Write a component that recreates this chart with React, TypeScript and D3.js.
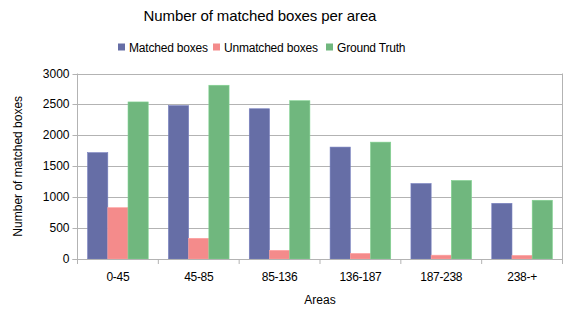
import React, { useEffect, useRef } from 'react';
import * as d3 from 'd3';

const categories = ['0-45', '45-85', '85-136', '136-187', '187-238', '238-+'];
const seriesNames = ['Matched boxes', 'Unmatched boxes', 'Ground Truth'];
const matched = [1720, 2480, 2430, 1810, 1220, 900];
const unmatched = [830, 335, 140, 90, 62, 58];
const groundTruth = [2540, 2810, 2560, 1890, 1270, 950];
const colors = ['#666ea6', '#f48b8b', '#70b77e'];
const yTicks = [0, 500, 1000, 1500, 2000, 2500, 3000];

const App = () => {
  const ref = useRef<SVGSVGElement>(null);

  useEffect(() => {
    const svg = d3.select(ref.current);
    svg.selectAll('*').remove();

    const width = 570;
    const height = 325;
    const margin = { top: 73.5, right: 7.5, bottom: 66, left: 77.5 };
    const font = 'Liberation Sans, Arial, sans-serif';
    const values = [matched, unmatched, groundTruth];

    const x0 = d3.scaleBand()
      .domain(categories)
      .range([margin.left, width - margin.right])
      .paddingInner(0.25)
      .paddingOuter(0.125);
    const x1 = d3.scaleBand()
      .domain(seriesNames)
      .range([0, x0.bandwidth()])
      .padding(0);
    const y = d3.scaleLinear()
      .domain([0, 3000])
      .range([height - margin.bottom, margin.top]);

    const left = margin.left;
    const right = width - margin.right;
    const bottom = height - margin.bottom;

    // gridlines
    svg.append('g')
      .selectAll('line')
      .data(yTicks)
      .join('line')
      .attr('x1', left - 5)
      .attr('x2', right)
      .attr('y1', d => Math.round(y(d)) + 0.5)
      .attr('y2', d => Math.round(y(d)) + 0.5)
      .attr('stroke', '#b3b3b3')
      .attr('stroke-width', 1);

    // right border
    svg.append('line')
      .attr('x1', right).attr('x2', right)
      .attr('y1', y(3000)).attr('y2', bottom)
      .attr('stroke', '#b3b3b3');

    // bars
    categories.forEach((c, i) => {
      const g = svg.append('g');
      seriesNames.forEach((s, j) => {
        const v = values[j][i];
        g.append('rect')
          .attr('x', (x0(c) as number) + (x1(s) as number))
          .attr('y', y(v))
          .attr('width', x1.bandwidth())
          .attr('height', bottom - y(v))
          .attr('fill', colors[j])
          .attr('stroke', d3.color(colors[j])!.brighter(0.4).toString())
          .attr('stroke-width', 0.6);
      });
    });

    // axes lines
    svg.append('line')
      .attr('x1', left).attr('x2', left)
      .attr('y1', y(3000)).attr('y2', bottom + 5)
      .attr('stroke', '#b3b3b3');
    svg.append('line')
      .attr('x1', left - 5).attr('x2', right)
      .attr('y1', Math.round(bottom) + 0.5).attr('y2', Math.round(bottom) + 0.5)
      .attr('stroke', '#b3b3b3');

    // x ticks at category boundaries
    const step = x0.step();
    svg.append('g')
      .selectAll('line')
      .data(d3.range(categories.length + 1))
      .join('line')
      .attr('x1', d => left + d * step)
      .attr('x2', d => left + d * step)
      .attr('y1', bottom)
      .attr('y2', bottom + 5)
      .attr('stroke', '#b3b3b3');

    // y tick labels
    svg.append('g')
      .selectAll('text')
      .data(yTicks)
      .join('text')
      .attr('x', left - 8)
      .attr('y', d => y(d) + 4)
      .attr('text-anchor', 'end')
      .attr('font-family', font)
      .attr('font-size', 12)
      .attr('fill', '#000')
      .text(d => d);

    // x tick labels
    svg.append('g')
      .selectAll('text')
      .data(categories)
      .join('text')
      .attr('x', d => (x0(d) as number) + x0.bandwidth() / 2)
      .attr('y', bottom + 22)
      .attr('text-anchor', 'middle')
      .attr('font-family', font)
      .attr('font-size', 12)
      .attr('letter-spacing', -0.3)
      .attr('fill', '#000')
      .text(d => d);

    // axis titles
    svg.append('text')
      .attr('x', (left + right) / 2)
      .attr('y', 304)
      .attr('text-anchor', 'middle')
      .attr('font-family', font)
      .attr('font-size', 12)
      .text('Areas');
    svg.append('text')
      .attr('transform', `translate(22,${(y(3000) + bottom) / 2}) rotate(-90)`)
      .attr('text-anchor', 'middle')
      .attr('font-family', font)
      .attr('font-size', 12)
      .text('Number of matched boxes');

    // title
    svg.append('text')
      .attr('x', 260)
      .attr('y', 21)
      .attr('text-anchor', 'middle')
      .attr('font-family', font)
      .attr('font-size', 15)
      .attr('letter-spacing', -0.1)
      .text('Number of matched boxes per area');

    // legend
    const legendX = [118, 213, 326];
    seriesNames.forEach((s, j) => {
      svg.append('rect')
        .attr('x', legendX[j])
        .attr('y', 43.5)
        .attr('width', 7)
        .attr('height', 7)
        .attr('fill', colors[j]);
      svg.append('text')
        .attr('x', legendX[j] + 11)
        .attr('y', 51.5)
        .attr('font-family', font)
        .attr('font-size', 12)
        .attr('letter-spacing', -0.2)
        .text(s);
    });
  }, []);

  return (
    <svg
      ref={ref}
      width={570}
      height={325}
      style={{ position: 'absolute', left: 0, top: 0, background: '#fff' }}
    />
  );
};

export default App;
